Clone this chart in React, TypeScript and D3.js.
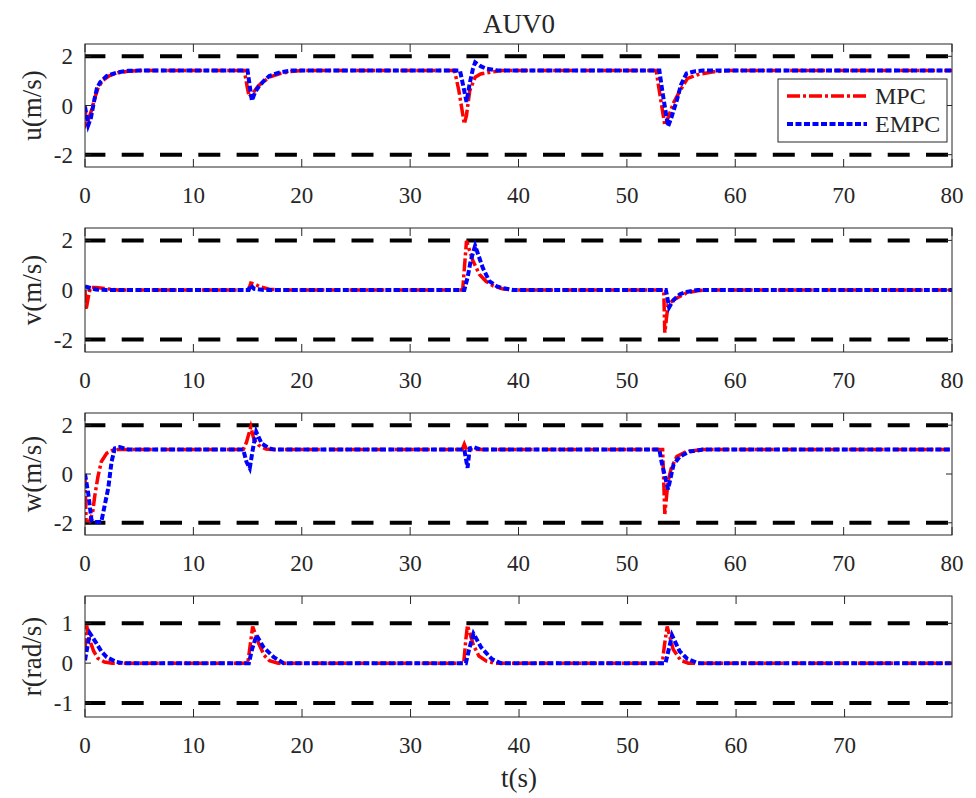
import React from "react";
import * as d3 from "d3";

type P = [number, number];

const titleText = "AUV0";
const xLabel = "t(s)";
const yLabels = ["u(m/s)", "v(m/s)", "w(m/s)", "r(rad/s)"];
const seriesNames = ["MPC", "EMPC"];
const xTicksFull = [0, 10, 20, 30, 40, 50, 60, 70, 80];
const xTicksLast = [0, 10, 20, 30, 40, 50, 60, 70];
const yTicksVel = [-2, 0, 2];
const yTicksRate = [-1, 0, 1];
const limitsVel = [-2, 2];
const limitsRate = [-1, 1];

const uMPC: P[] = [[0,0],[0.1,-0.75],[0.3,-0.6],[0.6,-0.2],[0.9,0.3],[1.2,0.7],[1.6,1.0],[2.2,1.2],[3,1.33],[4,1.39],[5,1.42],[14.7,1.42],[14.95,0.8],[15.15,0.35],[15.4,0.45],[16,0.8],[17,1.15],[18,1.3],[19,1.38],[20,1.42],[34.1,1.42],[34.5,0.6],[35.0,-0.75],[35.2,-0.4],[35.5,0.6],[36,1.15],[36.5,1.28],[37.5,1.36],[38.5,1.42],[52.7,1.42],[53.1,0.3],[53.5,-0.8],[53.8,-0.5],[54.3,0.1],[54.9,0.6],[55.6,1.1],[56.5,1.25],[58,1.37],[59.5,1.42],[80,1.42]];
const uEMPC: P[] = [[0,-0.05],[0.3,-0.8],[0.55,-0.5],[0.8,0.1],[1.1,0.7],[1.4,0.95],[2,1.2],[3,1.35],[4,1.41],[5,1.42],[15.0,1.42],[15.2,0.8],[15.4,0.2],[15.7,0.55],[16,0.75],[16.5,1.0],[17,1.2],[18,1.35],[19,1.42],[34.6,1.42],[34.9,0.8],[35.2,0.15],[35.5,0.9],[35.8,1.5],[36,1.75],[36.5,1.6],[37,1.5],[38,1.43],[39,1.42],[53.0,1.42],[53.3,0.5],[53.8,-0.85],[54.1,-0.5],[54.6,0.2],[55.0,0.85],[55.5,1.3],[56.2,1.38],[57,1.42],[80,1.42]];

const vMPC: P[] = [[0,0],[0.1,-0.8],[0.3,-0.3],[0.5,0.1],[1,0.1],[2,0.05],[3,0],[15.1,0],[15.3,0.28],[15.6,0.25],[16.2,0.12],[17,0.03],[18,0],[34.85,0],[35.2,1.98],[35.8,1.17],[36.4,0.63],[37,0.35],[37.7,0.16],[38.5,0.05],[39.5,0],[53.4,0],[53.5,-1.72],[53.8,-0.58],[54.5,-0.35],[55.5,-0.12],[56.5,-0.03],[57.5,0],[80,0]];
const vEMPC: P[] = [[0,0.15],[0.5,0.08],[1,0.02],[2,0],[15.1,0],[15.25,0.2],[15.6,0.05],[16.5,0],[35.0,0],[35.3,0.5],[35.6,1.2],[36.0,1.78],[36.7,0.9],[37.3,0.36],[38,0.15],[38.5,0.08],[39.5,0],[53.6,0],[53.9,-0.7],[54.3,-0.4],[54.9,-0.17],[55.5,-0.08],[56.5,0],[80,0]];

const wMPC: P[] = [[0,0],[0.1,-1.9],[0.4,-1.95],[0.7,-1.6],[0.9,-0.9],[1.2,-0.1],[1.5,0.5],[2.0,0.85],[2.5,0.97],[3,1.0],[14.6,1.0],[14.9,1.3],[15.3,1.93],[15.6,1.4],[16,1.19],[16.7,1.02],[17.2,1.0],[34.8,1.0],[35.0,1.22],[35.2,1.0],[53.3,1.0],[53.5,-1.64],[53.8,-0.3],[54.1,0.24],[54.6,0.72],[55.5,0.92],[57,1.0],[80,1.0]];
const wEMPC: P[] = [[0,0],[0.3,-0.8],[0.6,-1.9],[0.8,-1.97],[1.5,-1.97],[2.15,-0.57],[2.45,0.5],[2.75,1.05],[3.2,1.1],[4,1.0],[14.6,1.0],[14.9,0.5],[15.2,0.24],[15.5,1.05],[15.8,1.73],[16.3,1.25],[17,1.05],[17.5,1.0],[35.0,1.0],[35.3,0.25],[35.5,1.05],[35.9,1.1],[36.5,1.0],[53.0,1.0],[53.2,0.5],[53.8,-0.63],[54.3,0.38],[54.9,0.72],[55.8,0.92],[57,1.0],[80,1.0]];

const rMPC: P[] = [[0,0.3],[0.15,0.95],[0.4,0.6],[0.8,0.3],[1.2,0.12],[1.8,0.03],[2.5,0],[15.0,0],[15.2,0.4],[15.45,0.92],[16,0.5],[16.5,0.2],[17,0.06],[17.8,0],[34.9,0],[35.1,0.6],[35.25,0.95],[35.8,0.45],[36.3,0.18],[37,0.05],[37.8,0],[53.2,0],[53.4,0.45],[53.65,0.92],[54.2,0.35],[54.9,0.07],[55.6,0],[79.9,0]];
const rEMPC: P[] = [[0,0.07],[0.25,0.45],[0.45,0.75],[1.07,0.49],[1.5,0.3],[2,0.15],[2.8,0.04],[3.5,0],[15.1,0],[15.4,0.35],[15.8,0.7],[16.45,0.4],[17.4,0.15],[18.3,0],[35.1,0],[35.4,0.35],[35.8,0.74],[36.5,0.4],[37.5,0.1],[38.3,0],[53.5,0],[53.8,0.35],[54.1,0.7],[54.8,0.3],[55.5,0.11],[56.5,0],[79.9,0]];

const FONT = "'Liberation Serif', 'Times New Roman', serif";
const AX = "#262626";

const panels = [
  { top: 44, bottom: 167, xMax: 80, yDom: [-2.5, 2.5], yTicks: yTicksVel, xTicks: xTicksFull, lim: limitsVel, mpc: uMPC, empc: uEMPC },
  { top: 228, bottom: 352, xMax: 80, yDom: [-2.5, 2.5], yTicks: yTicksVel, xTicks: xTicksFull, lim: limitsVel, mpc: vMPC, empc: vEMPC },
  { top: 413, bottom: 535, xMax: 80, yDom: [-2.5, 2.5], yTicks: yTicksVel, xTicks: xTicksFull, lim: limitsVel, mpc: wMPC, empc: wEMPC },
  { top: 596, bottom: 717, xMax: 79.9, yDom: [-1.352, 1.686], yTicks: yTicksRate, xTicks: xTicksLast, lim: limitsRate, mpc: rMPC, empc: rEMPC },
];

const LEFT = 85;
const RIGHT = 952;

const RED_DASH = "13 3 3 3";
const BLUE_DASH = "6 2.5";
const BLACK_DASH = "22 16.3";

export default function App() {
  return (
    <svg width={976} height={798} style={{ position: "absolute", left: 0, top: 0, background: "#fff" }} fontFamily={FONT}>
      <rect x={0} y={0} width={976} height={798} fill="#fff" />
      <defs>
        {panels.map((p, i) => (
          <clipPath id={`clip${i}`} key={i}>
            <rect x={LEFT} y={p.top} width={RIGHT - LEFT} height={p.bottom - p.top} />
          </clipPath>
        ))}
      </defs>
      {panels.map((p, i) => {
        const x = d3.scaleLinear().domain([0, p.xMax]).range([LEFT, RIGHT]);
        const y = d3.scaleLinear().domain(p.yDom).range([p.bottom, p.top]);
        const line = d3.line<P>().x((d) => x(d[0])).y((d) => y(d[1]));
        const cy = (p.top + p.bottom) / 2;
        return (
          <g key={i}>
            <g clipPath={`url(#clip${i})`}>
              {p.lim.map((l, k) => (
                <line key={k} x1={x(0)} x2={x(p.xMax)} y1={y(l)} y2={y(l)} stroke="#000" strokeWidth={4} strokeDasharray={BLACK_DASH} strokeDashoffset={1.6} />
              ))}
              <path d={line(p.mpc) || ""} fill="none" stroke="#ff0000" strokeWidth={3.5} strokeDasharray={RED_DASH} />
              <path d={line(p.empc) || ""} fill="none" stroke="#0000ff" strokeWidth={4} strokeDasharray={BLUE_DASH} />
            </g>
            <rect x={LEFT} y={p.top} width={RIGHT - LEFT} height={p.bottom - p.top} fill="none" stroke={AX} strokeWidth={1} />
            {p.xTicks.map((t) => (
              <g key={`xt${t}`}>
                <line x1={x(t)} x2={x(t)} y1={p.bottom} y2={p.bottom - 8} stroke={AX} />
                <line x1={x(t)} x2={x(t)} y1={p.top} y2={p.top + 8} stroke={AX} />
                <text x={x(t)} y={p.bottom + 36} textAnchor="middle" fontSize={23} fill={AX}>{t}</text>
              </g>
            ))}
            {p.yTicks.map((t) => (
              <g key={`yt${t}`}>
                <line x1={LEFT} x2={LEFT + 6} y1={y(t)} y2={y(t)} stroke={AX} />
                <line x1={RIGHT} x2={RIGHT - 6} y1={y(t)} y2={y(t)} stroke={AX} />
                <text x={LEFT - 12} y={y(t)} dy="0.35em" textAnchor="end" fontSize={23} fill={AX}>{t}</text>
              </g>
            ))}
            <text transform={`translate(32,${cy}) rotate(-90)`} textAnchor="middle" dominantBaseline="central" fontSize={27} fill={AX}>{yLabels[i]}</text>
          </g>
        );
      })}
      <text x={519} y={33} textAnchor="middle" fontSize={27} fill={AX}>{titleText}</text>
      <text x={519} y={787} textAnchor="middle" fontSize={27} fill={AX}>{xLabel}</text>
      <g>
        <rect x={778} y={79} width={169} height={63} fill="#fff" stroke={AX} strokeWidth={1} />
        <line x1={787} x2={867} y1={96} y2={96} stroke="#ff0000" strokeWidth={3.5} strokeDasharray={RED_DASH} />
        <line x1={787} x2={867} y1={124} y2={124} stroke="#0000ff" strokeWidth={4} strokeDasharray={BLUE_DASH} />
        <text x={875} y={96} dy="0.35em" fontSize={24} fill={AX}>{seriesNames[0]}</text>
        <text x={875} y={124} dy="0.35em" fontSize={24} fill={AX}>{seriesNames[1]}</text>
      </g>
    </svg>
  );
}
